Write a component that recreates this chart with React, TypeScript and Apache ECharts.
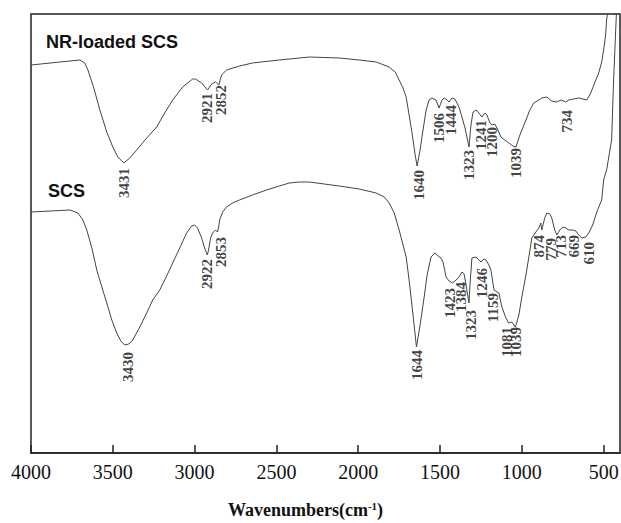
import React, { useEffect, useRef } from "react";
import * as echarts from "echarts";

// Wavenumber (cm-1) and transmittance (a.u.)
const nrWave = [4000, 3823, 3701, 3671, 3652, 3616, 3579, 3537, 3500, 3469, 3433, 3396, 3354, 3293, 3232, 3183, 3134, 3073, 3012, 2994, 2957, 2921, 2896, 2872, 2852, 2835, 2805, 2725, 2646, 2482, 2299, 2116, 1994, 1890, 1811, 1774, 1750, 1726, 1707, 1689, 1671, 1652, 1640, 1622, 1604, 1585, 1567, 1549, 1525, 1506, 1488, 1475, 1457, 1445, 1427, 1409, 1384, 1366, 1347, 1323, 1311, 1298, 1280, 1262, 1244, 1225, 1213, 1195, 1183, 1165, 1146, 1128, 1104, 1079, 1055, 1036, 1012, 975, 951, 927, 896, 878, 847, 817, 792, 756, 732, 713, 683, 652, 603, 579, 555, 530, 512, 500, 488, 482, 469, 463];
const nrValue = [388, 391, 393, 390, 383, 365, 343, 321, 306, 296, 290, 295, 303, 315, 326, 340, 353, 366, 374, 374, 370, 363, 369, 371, 368, 378, 383, 387, 390, 393, 396, 395, 393, 391, 386, 381, 373, 365, 356, 338, 320, 298, 287, 303, 323, 343, 353, 355, 353, 345, 353, 355, 353, 351, 355, 354, 346, 336, 325, 306, 328, 341, 343, 340, 336, 340, 338, 330, 328, 329, 323, 316, 313, 310, 307, 306, 318, 333, 343, 350, 353, 355, 356, 352, 351, 353, 351, 353, 354, 355, 353, 360, 370, 380, 391, 403, 418, 433, 448, 463];

const scsWave = [4000, 3884, 3762, 3713, 3683, 3659, 3628, 3598, 3567, 3537, 3506, 3476, 3451, 3427, 3402, 3378, 3335, 3293, 3256, 3213, 3171, 3134, 3091, 3049, 3018, 3000, 2982, 2957, 2939, 2922, 2915, 2902, 2890, 2872, 2860, 2853, 2847, 2829, 2805, 2768, 2726, 2646, 2561, 2482, 2421, 2360, 2299, 2207, 2116, 1994, 1890, 1841, 1811, 1780, 1750, 1726, 1707, 1689, 1665, 1644, 1622, 1597, 1579, 1555, 1530, 1512, 1494, 1482, 1463, 1445, 1423, 1402, 1384, 1366, 1353, 1341, 1323, 1317, 1305, 1280, 1262, 1250, 1232, 1219, 1201, 1189, 1170, 1152, 1140, 1122, 1097, 1081, 1061, 1039, 1018, 1000, 975, 957, 939, 914, 896, 884, 878, 860, 847, 829, 817, 799, 786, 768, 750, 731, 713, 689, 670, 652, 634, 609, 591, 567, 542, 512, 500, 482, 451, 439, 421];
const scsValue = [241, 242, 243, 240, 233, 223, 205, 183, 166, 150, 133, 120, 112, 108, 109, 113, 126, 140, 153, 163, 177, 190, 205, 220, 227, 228, 225, 215, 205, 198, 203, 215, 220, 223, 221, 226, 233, 241, 246, 250, 253, 258, 263, 267, 270, 271, 271, 269, 267, 264, 260, 256, 250, 240, 223, 208, 196, 173, 138, 106, 128, 156, 178, 196, 200, 197, 195, 191, 176, 172, 170, 173, 176, 181, 179, 168, 150, 168, 195, 196, 193, 191, 194, 193, 188, 183, 163, 161, 160, 146, 135, 130, 131, 126, 138, 156, 178, 196, 215, 221, 225, 230, 223, 235, 240, 239, 235, 223, 218, 223, 226, 225, 223, 223, 222, 218, 215, 216, 220, 228, 241, 253, 273, 283, 313, 373, 443];

// Peak annotations: [wavenumber, transmittance at text top, text]
const nrPeakWave = [3433, 2927, 2841, 1628, 1506, 1433, 1323, 1247, 1183, 1036, 725];
const nrPeakValue = [285, 360, 368, 283, 340, 348, 303, 333, 326, 305, 343];
const nrPeakText = ["3431", "2921", "2852", "1640", "1506", "1444", "1323", "1241", "1200", "1039", "734"];

const scsPeakWave = [3408, 2927, 2841, 1640, 1439, 1372, 1311, 1244, 1177, 1091, 1036, 896, 823, 762, 683, 591];
const scsPeakValue = [101, 194, 216, 103, 165, 171, 143, 185, 160, 126, 126, 218, 215, 218, 218, 211];
const scsPeakText = ["3430", "2922", "2853", "1644", "1423", "1384", "1323", "1246", "1159", "1081", "1039", "874", "779", "713", "669", "610"];

const tickValues = [4000, 3500, 3000, 2500, 2000, 1500, 1000, 500];
const seriesNames = ["NR-loaded SCS", "SCS"];

const zip = (a: number[], b: number[]) => a.map((v, i) => [v, b[i]]);
const zipLabels = (a: number[], b: number[], t: string[]) => a.map((v, i) => [v, b[i], t[i]]);

const peakLabelSeries = (name: string, data: any[]) => ({
  name,
  type: "scatter",
  data,
  symbolSize: 0,
  silent: true,
  label: {
    show: true,
    formatter: (p: any) => p.value[2],
    position: [0, 0],
    rotate: 90,
    align: "right",
    verticalAlign: "middle",
    fontFamily: "Liberation Serif",
    fontWeight: "bold",
    fontSize: 15,
    color: "#111",
  },
});

export default function App() {
  const ref = useRef<HTMLDivElement>(null);
  useEffect(() => {
    if (!ref.current) return;
    const chart = echarts.init(ref.current, null, { renderer: "svg" });
    chart.setOption({
      animation: false,
      backgroundColor: "#fff",
      grid: {
        left: 31,
        right: 1,
        top: 14,
        bottom: 70,
        containLabel: false,
        outerBoundsMode: "none",
        show: true,
        borderColor: "#222",
        borderWidth: 1.5,
      },
      xAxis: {
        type: "value",
        inverse: true,
        min: 400,
        max: 4000,
        name: "Wavenumbers(cm{sup|-1})",
        nameLocation: "middle",
        nameGap: 47,
        nameTextStyle: {
          fontFamily: "Liberation Serif",
          fontWeight: "bold",
          fontSize: 18,
          color: "#111",
          padding: [0, 40, 0, 0],
          rich: {
            sup: {
              fontFamily: "Liberation Serif",
              fontWeight: "bold",
              fontSize: 11,
              verticalAlign: "bottom",
              padding: [0, 0, 8, 0],
              color: "#111",
            },
          },
        },
        axisLine: { show: true, lineStyle: { color: "#222", width: 1.5 } },
        axisTick: {
          show: true,
          inside: true,
          length: 8,
          customValues: tickValues,
          lineStyle: { color: "#222", width: 1.5 },
        },
        axisLabel: {
          customValues: tickValues,
          formatter: (v: number) => String(v),
          margin: 9,
          fontFamily: "Liberation Serif",
          fontSize: 20,
          color: "#111",
        },
        splitLine: { show: false },
      },
      yAxis: {
        type: "value",
        min: 0,
        max: 439,
        show: false,
      },
      graphic: [
        {
          type: "text",
          left: 46,
          top: 33,
          style: {
            text: seriesNames[0],
            fontFamily: "Liberation Sans",
            fontWeight: "bold",
            fontSize: 18,
            fill: "#111",
          },
        },
        {
          type: "text",
          left: 48,
          top: 182,
          style: {
            text: seriesNames[1],
            fontFamily: "Liberation Sans",
            fontWeight: "bold",
            fontSize: 18,
            fill: "#111",
          },
        },
      ],
      series: [
        {
          name: seriesNames[0],
          type: "line",
          data: zip(nrWave, nrValue),
          showSymbol: false,
          clip: true,
          lineStyle: { color: "#444", width: 1 },
        },
        {
          name: seriesNames[1],
          type: "line",
          data: zip(scsWave, scsValue),
          showSymbol: false,
          clip: true,
          lineStyle: { color: "#444", width: 1 },
        },
        peakLabelSeries(seriesNames[0] + " peaks", zipLabels(nrPeakWave, nrPeakValue, nrPeakText)),
        peakLabelSeries(seriesNames[1] + " peaks", zipLabels(scsPeakWave, scsPeakValue, scsPeakText)),
      ],
    });
    return () => chart.dispose();
  }, []);
  return (
    <div
      ref={ref}
      style={{ position: "absolute", left: 0, top: 0, width: 621, height: 523, background: "#fff" }}
    />
  );
}
